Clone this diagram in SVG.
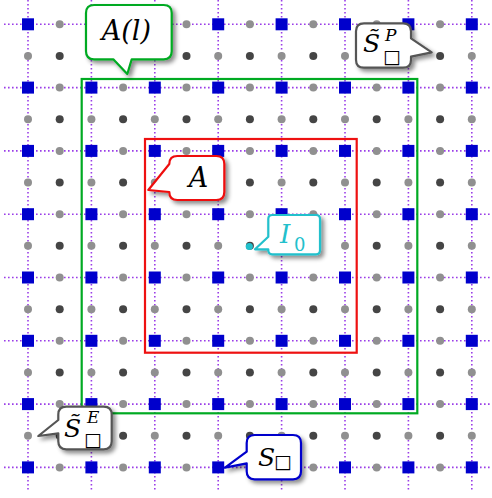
<svg xmlns="http://www.w3.org/2000/svg" xmlns:xlink="http://www.w3.org/1999/xlink" width="492" height="498" viewBox="0 0 492 498">
<defs>
<style>
.gl{stroke:#9a3de8;stroke-width:1.6;stroke-dasharray:1.6 2.4;fill:none}
.sq{fill:#0000cc}
.lg{fill:#909090}
.dk{fill:#454545}
.box{fill:#fff;stroke-width:2.2;stroke-linejoin:round;filter:url(#sh)}
.mi{font-family:"DejaVu Serif",serif;font-style:italic}
.rm{font-family:"DejaVu Serif",serif;font-style:normal}
.bx{font-family:"DejaVu Sans",sans-serif;font-style:normal}
</style>
<filter id="sh" x="-20%" y="-20%" width="150%" height="150%">
<feDropShadow dx="3" dy="3" stdDeviation="2" flood-color="#000" flood-opacity="0.45"/>
</filter>
<g id="rowA">
<rect class="sq" x="22" y="-6" width="12" height="12"/>
<circle class="lg" cx="59.7" cy="0" r="4"/>
<rect class="sq" x="85.4" y="-6" width="12" height="12"/>
<circle class="lg" cx="123.1" cy="0" r="4"/>
<rect class="sq" x="148.8" y="-6" width="12" height="12"/>
<circle class="lg" cx="186.5" cy="0" r="4"/>
<rect class="sq" x="212.2" y="-6" width="12" height="12"/>
<circle class="lg" cx="249.9" cy="0" r="4"/>
<rect class="sq" x="275.6" y="-6" width="12" height="12"/>
<circle class="lg" cx="313.3" cy="0" r="4"/>
<rect class="sq" x="339" y="-6" width="12" height="12"/>
<circle class="lg" cx="376.7" cy="0" r="4"/>
<rect class="sq" x="402.4" y="-6" width="12" height="12"/>
<circle class="lg" cx="440.1" cy="0" r="4"/>
<rect class="sq" x="465.8" y="-6" width="12" height="12"/>
</g>
<g id="rowB">
<circle class="lg" cx="28" cy="0" r="4"/>
<circle class="dk" cx="59.7" cy="0" r="4"/>
<circle class="lg" cx="91.4" cy="0" r="4"/>
<circle class="dk" cx="123.1" cy="0" r="4"/>
<circle class="lg" cx="154.8" cy="0" r="4"/>
<circle class="dk" cx="186.5" cy="0" r="4"/>
<circle class="lg" cx="218.2" cy="0" r="4"/>
<circle class="dk" cx="249.9" cy="0" r="4"/>
<circle class="lg" cx="281.6" cy="0" r="4"/>
<circle class="dk" cx="313.3" cy="0" r="4"/>
<circle class="lg" cx="345" cy="0" r="4"/>
<circle class="dk" cx="376.7" cy="0" r="4"/>
<circle class="lg" cx="408.4" cy="0" r="4"/>
<circle class="dk" cx="440.1" cy="0" r="4"/>
<circle class="lg" cx="471.8" cy="0" r="4"/>
</g>
</defs>
<rect width="492" height="498" fill="#fff"/>
<g id="grid-lines">
<line class="gl" x1="28" y1="0" x2="28" y2="492"/>
<line class="gl" x1="91.4" y1="0" x2="91.4" y2="492"/>
<line class="gl" x1="154.8" y1="0" x2="154.8" y2="492"/>
<line class="gl" x1="218.2" y1="0" x2="218.2" y2="492"/>
<line class="gl" x1="281.6" y1="0" x2="281.6" y2="492"/>
<line class="gl" x1="345" y1="0" x2="345" y2="492"/>
<line class="gl" x1="408.4" y1="0" x2="408.4" y2="492"/>
<line class="gl" x1="471.8" y1="0" x2="471.8" y2="492"/>
<line class="gl" x1="4" y1="24.3" x2="492" y2="24.3"/>
<line class="gl" x1="4" y1="87.6" x2="492" y2="87.6"/>
<line class="gl" x1="4" y1="150.9" x2="492" y2="150.9"/>
<line class="gl" x1="4" y1="214.2" x2="492" y2="214.2"/>
<line class="gl" x1="4" y1="277.5" x2="492" y2="277.5"/>
<line class="gl" x1="4" y1="340.8" x2="492" y2="340.8"/>
<line class="gl" x1="4" y1="404.1" x2="492" y2="404.1"/>
<line class="gl" x1="4" y1="467.4" x2="492" y2="467.4"/>
</g>
<g id="grid-points">
<use xlink:href="#rowA" href="#rowA" y="24.3"/>
<use xlink:href="#rowB" href="#rowB" y="55.95"/>
<use xlink:href="#rowA" href="#rowA" y="87.6"/>
<use xlink:href="#rowB" href="#rowB" y="119.25"/>
<use xlink:href="#rowA" href="#rowA" y="150.9"/>
<use xlink:href="#rowB" href="#rowB" y="182.55"/>
<use xlink:href="#rowA" href="#rowA" y="214.2"/>
<use xlink:href="#rowB" href="#rowB" y="245.85"/>
<use xlink:href="#rowA" href="#rowA" y="277.5"/>
<use xlink:href="#rowB" href="#rowB" y="309.15"/>
<use xlink:href="#rowA" href="#rowA" y="340.8"/>
<use xlink:href="#rowB" href="#rowB" y="372.45"/>
<use xlink:href="#rowA" href="#rowA" y="404.1"/>
<use xlink:href="#rowB" href="#rowB" y="435.75"/>
<use xlink:href="#rowA" href="#rowA" y="467.4"/>
</g>
<g id="region-Al">
<rect x="81.7" y="79" width="335.6" height="334.3" fill="none" stroke="#00aa22" stroke-width="2.2"/>
</g>
<g id="region-A">
<rect x="145" y="139" width="211.7" height="213.7" fill="none" stroke="#ee1111" stroke-width="2.2"/>
</g>
<g id="point-I0">
<circle cx="249.3" cy="246.5" r="3.6" fill="#22c0cc"/>
</g>
<g id="callout-Al">
<path class="box" stroke="#00aa22" d="M94,5 H163.7 Q171.7,5 171.7,13 V51.3 Q171.7,59.3 163.7,59.3 H131.7 L127.3,74 L113.3,59.3 H94 Q86,59.3 86,51.3 V13 Q86,5 94,5 Z"/>
<text class="mi" x="126.4" y="40" font-size="27" text-anchor="middle">A(l)</text>
</g>
<g id="callout-SP">
<path class="box" stroke="#555" d="M364,23.3 H403 Q411,23.3 411,31.3 V38.3 L431.7,52.3 L411,56.7 V59.7 Q411,67.7 403,67.7 H364 Q356,67.7 356,59.7 V31.3 Q356,23.3 364,23.3 Z"/>
<text class="mi" x="363" y="52" font-size="25">S̃<tspan x="385" y="40.5" font-size="17">P</tspan><tspan class="bx" x="383" y="63" font-size="19">□</tspan></text>
</g>
<g id="callout-A">
<path class="box" stroke="#ee1111" d="M177.3,156 H216.3 Q224.3,156 224.3,164 V192 Q224.3,200 216.3,200 H177.3 Q169.3,200 169.3,192 L148.3,190 L169.3,164 Q169.3,156 177.3,156 Z"/>
<text class="mi" x="198.5" y="187" font-size="27" text-anchor="middle">A</text>
</g>
<g id="callout-I0">
<path class="box" stroke="#22c0cc" d="M272.3,215 H316 Q320,215 320,219 V250.3 Q320,254.3 316,254.3 H272.3 Q268.3,254.3 268.3,250.3 V249.3 L255,249.3 L268.3,236.7 V219 Q268.3,215 272.3,215 Z"/>
<text class="mi" x="280" y="242.5" font-size="26" fill="#22c0cc">I<tspan class="rm" x="294" y="251" font-size="18">0</tspan></text>
</g>
<g id="callout-SE">
<path class="box" stroke="#555" d="M66.3,406.7 H103.7 Q111.7,406.7 111.7,414.7 V441.3 Q111.7,449.3 103.7,449.3 H66.3 Q58.3,449.3 58.3,441.3 V433.3 L38.3,436 L58.3,420 V414.7 Q58.3,406.7 66.3,406.7 Z"/>
<text class="mi" x="64" y="437" font-size="25">S̃<tspan x="87" y="422.5" font-size="17">E</tspan><tspan class="bx" x="84" y="445.5" font-size="19">□</tspan></text>
</g>
<g id="callout-S">
<path class="box" stroke="#0000cc" d="M254.7,435 H293 Q301,435 301,443 V471.3 Q301,479.3 293,479.3 H254.7 Q246.7,479.3 246.7,471.3 V463.3 L225,467.7 L246.7,451.7 V443 Q246.7,435 254.7,435 Z"/>
<text class="mi" x="258" y="465.5" font-size="25">S<tspan class="bx" x="274" y="468" font-size="19">□</tspan></text>
</g>
</svg>
